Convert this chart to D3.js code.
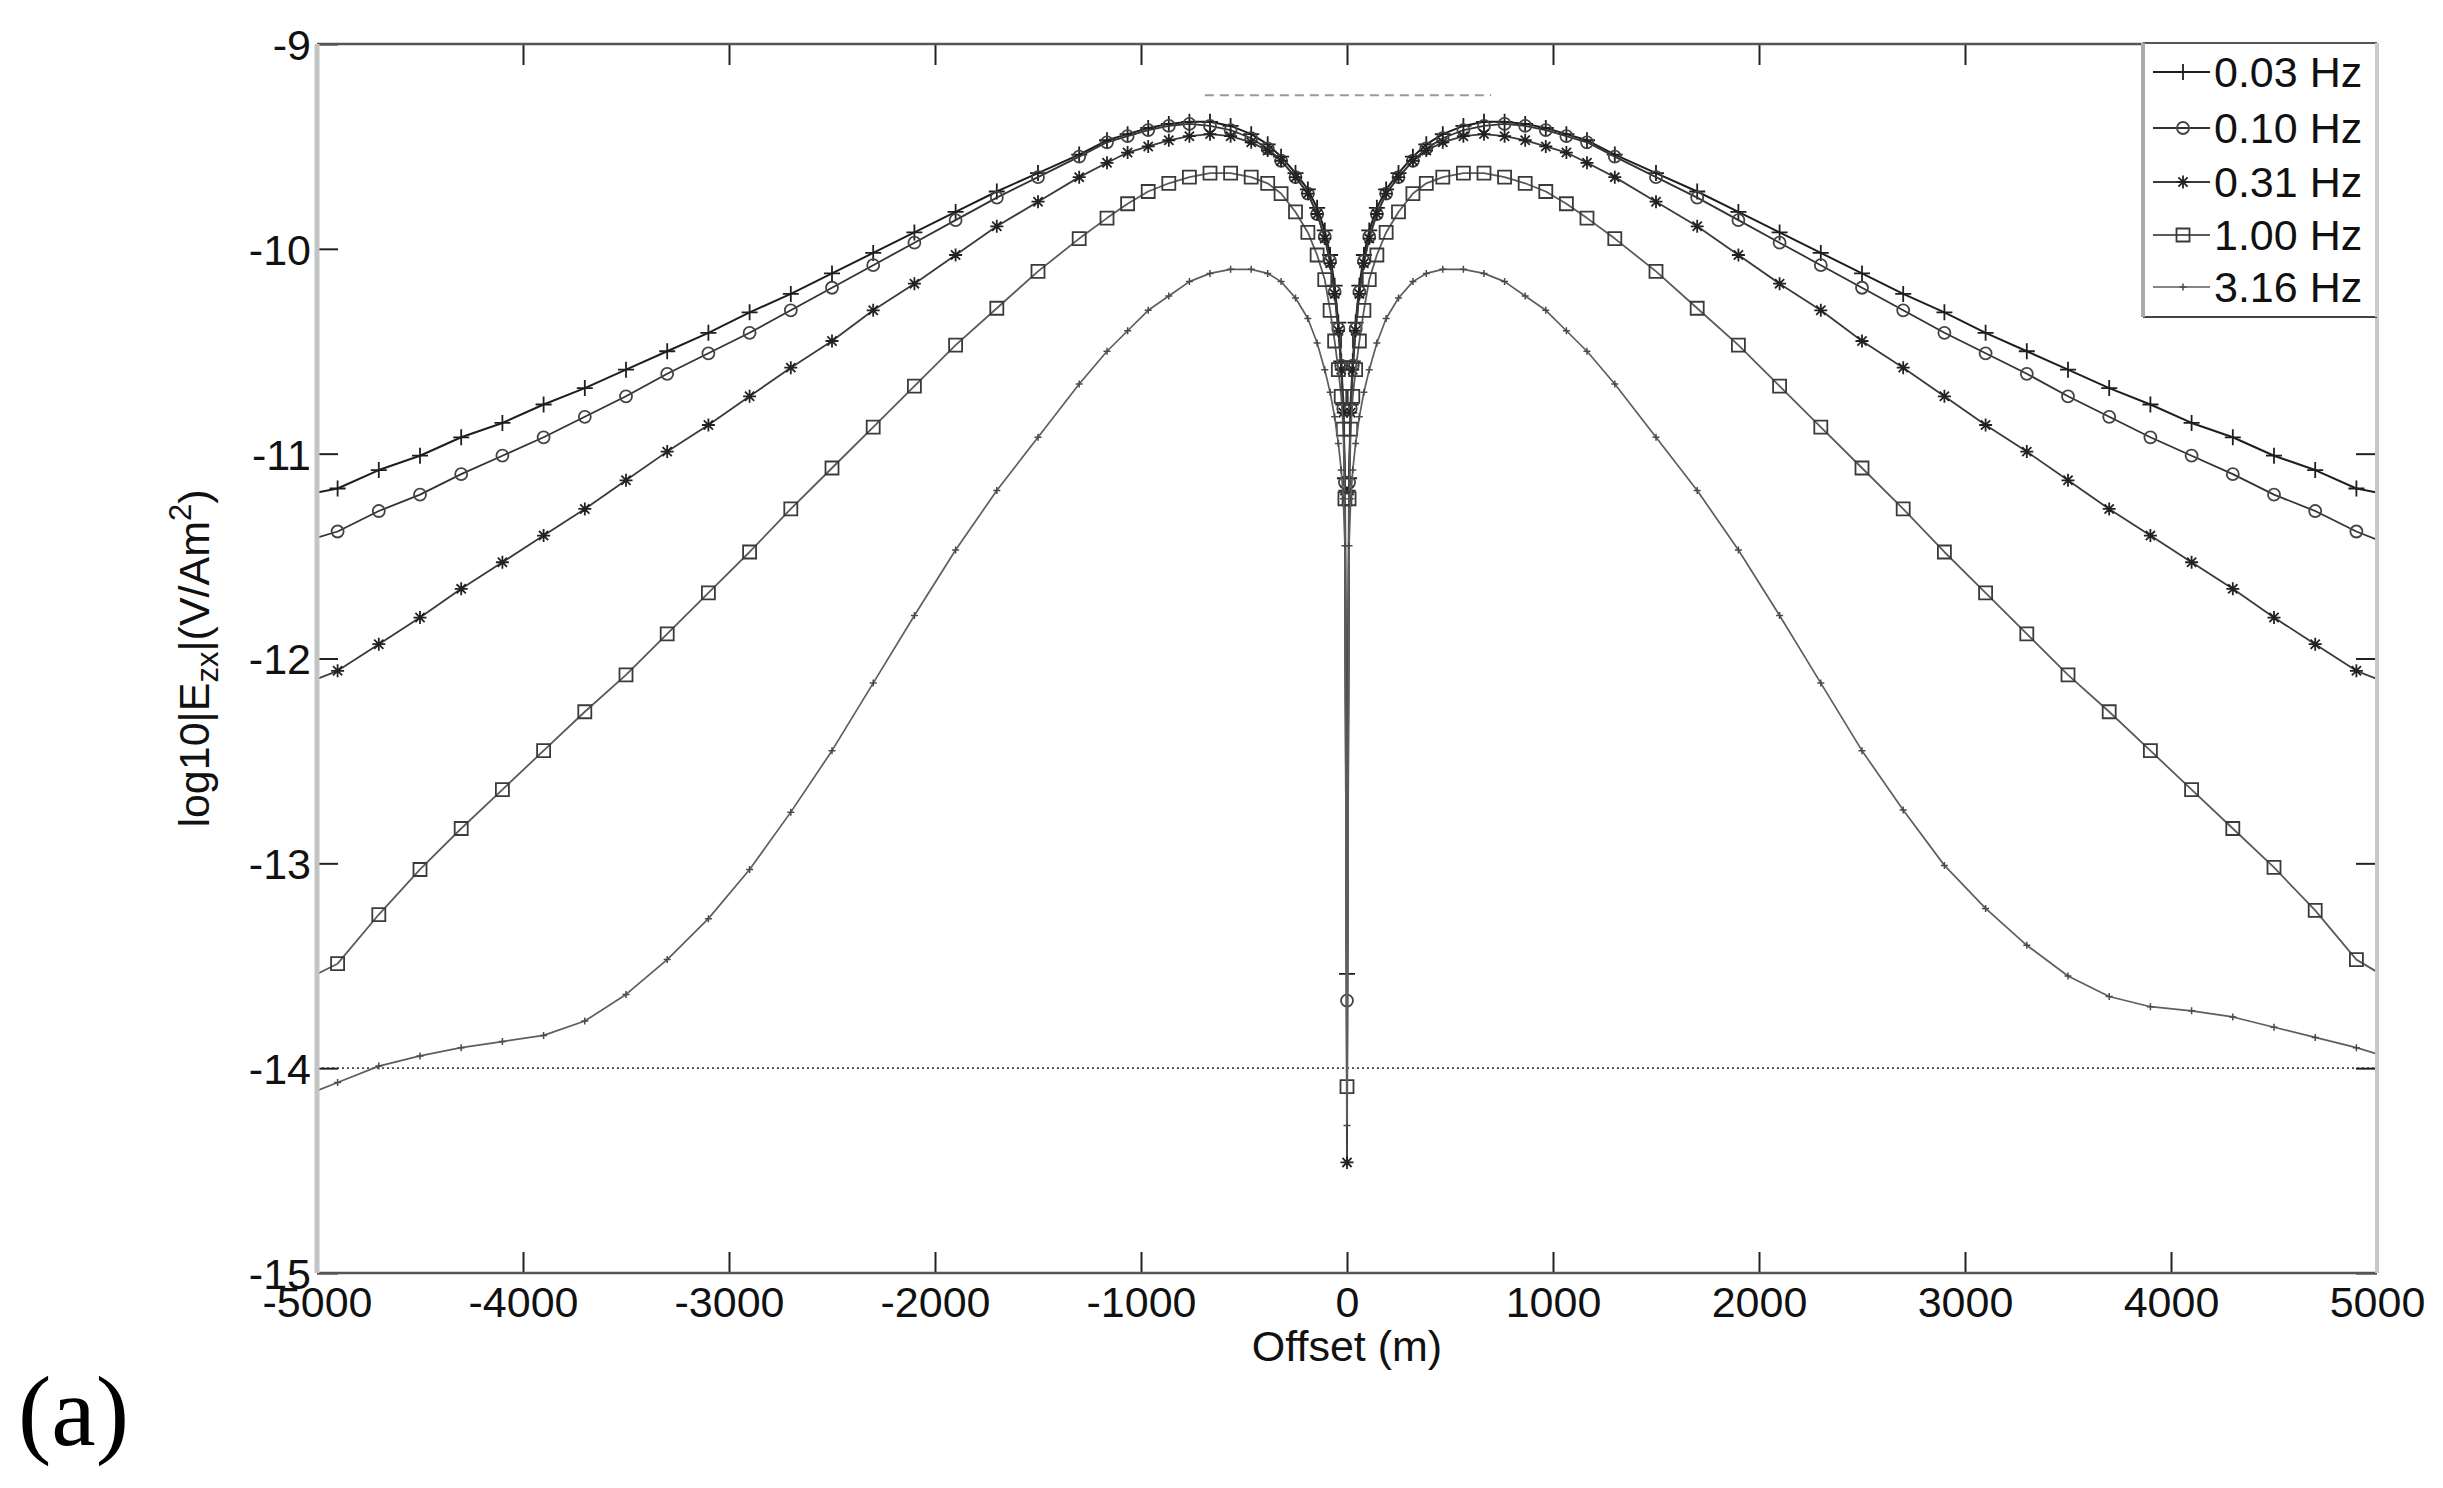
<!DOCTYPE html>
<html>
<head>
<meta charset="utf-8">
<script src="https://cdn.jsdelivr.net/npm/d3@7"></script>
<style>
  html, body { margin: 0; padding: 0; background: #fff; }
  svg { display: block; }
</style>
</head>
<body>
<svg id="chart" width="2443" height="1488"></svg>
<script>
// ---------------- DATA ----------------
const offsets = [
  -5000, -4900, -4700, -4500, -4300, -4100, -3900, -3700, -3500, -3300,
  -3100, -2900, -2700, -2500, -2300, -2100, -1900, -1700, -1500, -1300,
  -1165, -1065, -965, -865, -765, -665, -565, -465, -385, -320,
  -250, -190, -145, -108, -82, -60, -42, -28, -18, -10,
  0,
  10, 18, 28, 42, 60, 82, 108, 145, 190, 250,
  320, 385, 465, 565, 665, 765, 865, 965, 1065, 1165,
  1300, 1500, 1700, 1900, 2100, 2300, 2500, 2700, 2900, 3100,
  3300, 3500, 3700, 3900, 4100, 4300, 4500, 4700, 4900, 5000
];

const ez_003 = [
  -11.19, -11.17, -11.08, -11.01, -10.92, -10.85, -10.76, -10.68, -10.59, -10.50,
  -10.41, -10.31, -10.22, -10.12, -10.02, -9.92, -9.82, -9.72, -9.63, -9.54,
  -9.47, -9.44, -9.41, -9.39, -9.38, -9.38, -9.40, -9.44, -9.49, -9.55,
  -9.63, -9.71, -9.80, -9.91, -10.03, -10.18, -10.36, -10.55, -10.76, -11.12,
  -13.54,
  -11.12, -10.76, -10.55, -10.36, -10.18, -10.03, -9.91, -9.80, -9.71, -9.63,
  -9.55, -9.49, -9.44, -9.40, -9.38, -9.38, -9.39, -9.41, -9.44, -9.47,
  -9.54, -9.63, -9.72, -9.82, -9.92, -10.02, -10.12, -10.22, -10.31, -10.41,
  -10.50, -10.59, -10.68, -10.76, -10.85, -10.92, -11.01, -11.08, -11.17, -11.19
];

const ez_010 = [
  -11.41, -11.38, -11.28, -11.20, -11.10, -11.01, -10.92, -10.82, -10.72, -10.61,
  -10.51, -10.41, -10.30, -10.19, -10.08, -9.97, -9.86, -9.75, -9.65, -9.55,
  -9.48, -9.45, -9.42, -9.40, -9.39, -9.40, -9.42, -9.46, -9.51, -9.57,
  -9.65, -9.73, -9.83, -9.94, -10.06, -10.21, -10.39, -10.57, -10.78, -11.14,
  -13.67,
  -11.14, -10.78, -10.57, -10.39, -10.21, -10.06, -9.94, -9.83, -9.73, -9.65,
  -9.57, -9.51, -9.46, -9.42, -9.40, -9.39, -9.40, -9.42, -9.45, -9.48,
  -9.55, -9.65, -9.75, -9.86, -9.97, -10.08, -10.19, -10.30, -10.41, -10.51,
  -10.61, -10.72, -10.82, -10.92, -11.01, -11.10, -11.20, -11.28, -11.38, -11.42
];

const ez_031 = [
  -12.10, -12.06, -11.93, -11.80, -11.66, -11.53, -11.40, -11.27, -11.13, -10.99,
  -10.86, -10.72, -10.58, -10.45, -10.30, -10.17, -10.03, -9.89, -9.77, -9.65,
  -9.58, -9.53, -9.50, -9.47, -9.45, -9.44, -9.45, -9.48, -9.52, -9.57,
  -9.65, -9.73, -9.83, -9.95, -10.07, -10.22, -10.40, -10.59, -10.80, -11.18,
  -14.46,
  -11.18, -10.80, -10.59, -10.40, -10.22, -10.07, -9.95, -9.83, -9.73, -9.65,
  -9.57, -9.52, -9.48, -9.45, -9.44, -9.45, -9.47, -9.50, -9.53, -9.58,
  -9.65, -9.77, -9.89, -10.03, -10.17, -10.30, -10.45, -10.58, -10.72, -10.86,
  -10.99, -11.13, -11.27, -11.40, -11.53, -11.66, -11.80, -11.93, -12.06, -12.10
];

const ez_100 = [
  -13.54, -13.49, -13.25, -13.03, -12.83, -12.64, -12.45, -12.26, -12.08, -11.88,
  -11.68, -11.48, -11.27, -11.07, -10.87, -10.67, -10.47, -10.29, -10.11, -9.95,
  -9.85, -9.78, -9.72, -9.68, -9.65, -9.63, -9.63, -9.65, -9.68, -9.73,
  -9.82, -9.92, -10.03, -10.15, -10.30, -10.45, -10.59, -10.72, -10.88, -11.22,
  -14.09,
  -11.22, -10.88, -10.72, -10.59, -10.45, -10.30, -10.15, -10.03, -9.92, -9.82,
  -9.73, -9.68, -9.65, -9.63, -9.63, -9.65, -9.68, -9.72, -9.78, -9.85,
  -9.95, -10.11, -10.29, -10.47, -10.67, -10.87, -11.07, -11.27, -11.48, -11.68,
  -11.88, -12.08, -12.26, -12.45, -12.64, -12.83, -13.02, -13.23, -13.47, -13.53
];

const ez_316 = [
  -14.11, -14.07, -13.99, -13.94, -13.90, -13.87, -13.84, -13.77, -13.64, -13.47,
  -13.27, -13.03, -12.75, -12.45, -12.12, -11.79, -11.47, -11.18, -10.92, -10.66,
  -10.50, -10.40, -10.30, -10.23, -10.16, -10.12, -10.10, -10.10, -10.12, -10.16,
  -10.24, -10.34, -10.46, -10.59, -10.70, -10.82, -10.95, -11.08, -11.22, -11.45,
  -14.28,
  -11.45, -11.22, -11.08, -10.95, -10.82, -10.70, -10.59, -10.46, -10.34, -10.24,
  -10.16, -10.12, -10.10, -10.10, -10.12, -10.16, -10.23, -10.30, -10.40, -10.50,
  -10.66, -10.92, -11.18, -11.47, -11.79, -12.12, -12.45, -12.74, -13.01, -13.22,
  -13.40, -13.55, -13.65, -13.70, -13.72, -13.75, -13.80, -13.85, -13.90, -13.93
];

const seriesNames = ["0.03 Hz", "0.10 Hz", "0.31 Hz", "1.00 Hz", "3.16 Hz"];
const seriesValues = [ez_003, ez_010, ez_031, ez_100, ez_316];
const seriesMarkers = ["plus", "circle", "star", "square", "dot"];

const xTicks = [-5000, -4000, -3000, -2000, -1000, 0, 1000, 2000, 3000, 4000, 5000];
const yTicks = [-15, -14, -13, -12, -11, -10, -9];

const noiseFloor = -14;            // dotted reference line
const dashedRefX = [-690, 700];    // grey dashed segment near the top
const dashedRefY = -9.25;

// ---------------- STYLE ----------------
const plot = { left: 317, right: 2377, top: 44, bottom: 1273 };
const lineColors = ["#1e1e1e", "#333", "#3a3a3a", "#5a5a5a", "#5e5e5e"];
const markerColors = ["#1e1e1e", "#444", "#222", "#3a3a3a", "#4a4a4a"];
const lineWidths = [2.0, 1.8, 1.8, 1.8, 1.7];
const fontSize = 43;
const sans = "'Liberation Sans', Arial, sans-serif";
const serif = "'Liberation Serif', 'DejaVu Serif', serif";

const svg = d3.select("#chart");

const x = d3.scaleLinear().domain([-5000, 5000]).range([plot.left, plot.right]);
const y = d3.scaleLinear().domain([-15, -9]).range([plot.bottom, plot.top]);

svg.append("defs").append("clipPath").attr("id", "clip")
  .append("rect")
  .attr("x", plot.left).attr("y", plot.top)
  .attr("width", plot.right - plot.left).attr("height", plot.bottom - plot.top);

// reference lines
svg.append("line")
  .attr("x1", x(-5000)).attr("x2", x(5000))
  .attr("y1", y(noiseFloor)).attr("y2", y(noiseFloor))
  .attr("stroke", "#444").attr("stroke-width", 1.6)
  .attr("stroke-dasharray", "2,3");

svg.append("line")
  .attr("x1", x(dashedRefX[0])).attr("x2", x(dashedRefX[1]))
  .attr("y1", y(dashedRefY)).attr("y2", y(dashedRefY))
  .attr("stroke", "#999").attr("stroke-width", 2)
  .attr("stroke-dasharray", "9,6");

function markerPath(type) {
  switch (type) {
    case "plus": return "M-8,0H8M0,-8V8";
    case "circle": return "M6,0A6,6 0 1,1 -6,0A6,6 0 1,1 6,0Z";
    case "star": return "M-6.5,0H6.5M0,-6.5V6.5M-4.6,-4.6L4.6,4.6M-4.6,4.6L4.6,-4.6";
    case "square": return "M-6.5,-6.5H6.5V6.5H-6.5Z";
    case "dot": return "M-3.5,0H3.5M0,-3.5V3.5";
  }
}

const line = d3.line().x((d, i) => x(offsets[i])).y(d => y(d));
const plotG = svg.append("g").attr("clip-path", "url(#clip)");

seriesValues.forEach((vals, si) => {
  const g = plotG.append("g");
  g.append("path")
    .attr("d", line(vals))
    .attr("fill", "none")
    .attr("stroke", lineColors[si])
    .attr("stroke-width", lineWidths[si])
    .attr("stroke-linejoin", "round");
  g.selectAll("path.m")
    .data(vals.map((v, i) => ({ x: offsets[i], v })).filter(d => Math.abs(d.x) < 5000))
    .enter().append("path")
    .attr("class", "m")
    .attr("transform", d => `translate(${x(d.x)},${y(d.v)})`)
    .attr("d", markerPath(seriesMarkers[si]))
    .attr("fill", "none")
    .attr("stroke", markerColors[si])
    .attr("stroke-width", seriesMarkers[si] === "dot" ? 1.5 : 1.8);
});

// axes (ticks inward)
const fmt = d => String(d);
const bottomAxis = svg.append("g")
  .attr("transform", `translate(0,${plot.bottom})`)
  .call(d3.axisBottom(x).tickValues(xTicks).tickFormat(fmt).tickSize(-21).tickPadding(13));
const leftAxis = svg.append("g")
  .attr("transform", `translate(${plot.left},0)`)
  .call(d3.axisLeft(y).tickValues(yTicks).tickFormat(fmt).tickSize(-21).tickPadding(6));
const topAxis = svg.append("g")
  .attr("transform", `translate(0,${plot.top})`)
  .call(d3.axisTop(x).tickValues(xTicks).tickFormat("").tickSize(-21));
const rightAxis = svg.append("g")
  .attr("transform", `translate(${plot.right},0)`)
  .call(d3.axisRight(y).tickValues(yTicks).tickFormat("").tickSize(-21));

[bottomAxis, leftAxis, topAxis, rightAxis].forEach(a => {
  a.select(".domain").remove();
  a.selectAll(".tick line").attr("stroke", "#222").attr("stroke-width", 2);
  a.selectAll(".tick text")
    .style("font-family", sans)
    .attr("font-size", fontSize).attr("fill", "#111");
});
leftAxis.selectAll(".tick text").attr("dy", "0.36em");

// box
svg.append("line").attr("x1", plot.left).attr("x2", plot.right)
  .attr("y1", plot.top).attr("y2", plot.top)
  .attr("stroke", "#555").attr("stroke-width", 2.5);
svg.append("line").attr("x1", plot.left).attr("x2", plot.right)
  .attr("y1", plot.bottom).attr("y2", plot.bottom)
  .attr("stroke", "#555").attr("stroke-width", 2.5);
svg.append("line").attr("x1", plot.left).attr("x2", plot.left)
  .attr("y1", plot.top).attr("y2", plot.bottom)
  .attr("stroke", "#c4c4c4").attr("stroke-width", 5);
svg.append("line").attr("x1", plot.right).attr("x2", plot.right)
  .attr("y1", plot.top).attr("y2", plot.bottom)
  .attr("stroke", "#c8c8c8").attr("stroke-width", 4);

// axis titles
svg.append("text")
  .attr("x", (plot.left + plot.right) / 2).attr("y", 1361)
  .attr("text-anchor", "middle").attr("font-size", fontSize)
  .style("font-family", sans).attr("fill", "#111")
  .text("Offset (m)");

const yl = svg.append("text")
  .attr("transform", `translate(209,${(plot.top + plot.bottom) / 2}) rotate(-90)`)
  .attr("text-anchor", "middle").attr("font-size", fontSize)
  .style("font-family", sans).attr("fill", "#111");
yl.append("tspan").text("log10|E");
yl.append("tspan").attr("font-size", fontSize * 0.72).attr("dy", 9).text("zx");
yl.append("tspan").attr("dy", -9).text("|(V/Am");
yl.append("tspan").attr("font-size", fontSize * 0.72).attr("dy", -18).text("2");
yl.append("tspan").attr("dy", 18).text(")");

// panel label
svg.append("text")
  .attr("x", 18).attr("y", 1445)
  .style("font-family", serif)
  .attr("font-size", 100).attr("fill", "#000")
  .text("(a)");

// legend
const leg = { x0: 2143, y0: 43, x1: 2377, y1: 317 };
const legG = svg.append("g");
legG.append("rect")
  .attr("x", leg.x0).attr("y", leg.y0)
  .attr("width", leg.x1 - leg.x0).attr("height", leg.y1 - leg.y0)
  .attr("fill", "#fff");
legG.append("line").attr("x1", leg.x0).attr("x2", leg.x1).attr("y1", leg.y0).attr("y2", leg.y0)
  .attr("stroke", "#555").attr("stroke-width", 2);
legG.append("line").attr("x1", leg.x0).attr("x2", leg.x1).attr("y1", leg.y1).attr("y2", leg.y1)
  .attr("stroke", "#444").attr("stroke-width", 2);
legG.append("line").attr("x1", leg.x0).attr("x2", leg.x0).attr("y1", leg.y0).attr("y2", leg.y1)
  .attr("stroke", "#aaa").attr("stroke-width", 4);
legG.append("line").attr("x1", leg.x1).attr("x2", leg.x1).attr("y1", leg.y0).attr("y2", leg.y1)
  .attr("stroke", "#ccc").attr("stroke-width", 4);

const legRowY = [72, 128, 182, 235, 287];
seriesNames.forEach((name, si) => {
  const cy = legRowY[si];
  legG.append("line")
    .attr("x1", 2153).attr("x2", 2210).attr("y1", cy).attr("y2", cy)
    .attr("stroke", lineColors[si]).attr("stroke-width", lineWidths[si]);
  legG.append("path")
    .attr("transform", `translate(2183,${cy})`)
    .attr("d", markerPath(seriesMarkers[si]))
    .attr("fill", "none").attr("stroke", markerColors[si])
    .attr("stroke-width", seriesMarkers[si] === "dot" ? 1.5 : 1.8);
  legG.append("text")
    .attr("x", 2214).attr("y", cy).attr("dy", "0.36em")
    .attr("font-size", fontSize)
    .style("font-family", sans).attr("fill", "#111")
    .text(name);
});
</script>
</body>
</html>
